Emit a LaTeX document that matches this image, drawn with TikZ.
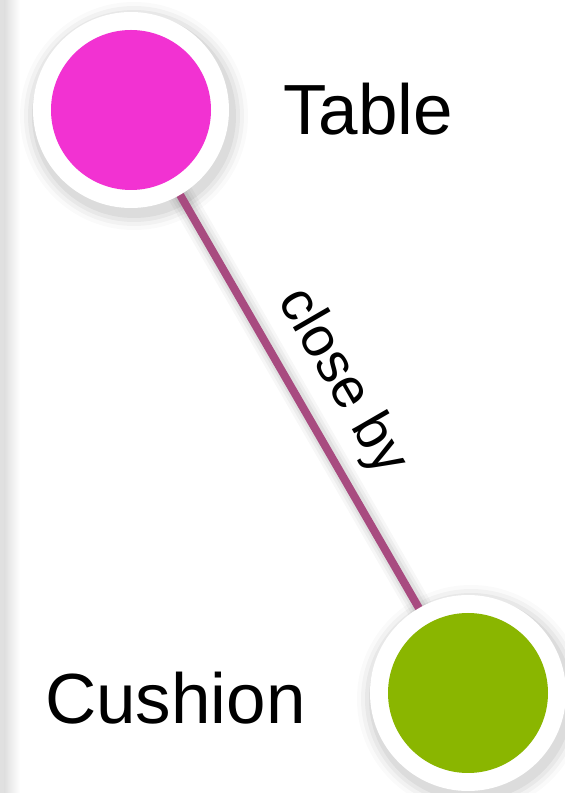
\documentclass[tikz,border=0pt]{standalone}
\usepackage{fontspec}
\setmainfont{Liberation Sans}
\usetikzlibrary{calc}
\definecolor{pinkc}{RGB}{242,50,210}
\definecolor{greenc}{RGB}{138,182,0}
\definecolor{edgec}{RGB}{168,75,128}
\tikzset{
  outer/.style={circle,fill=white,minimum size=196pt,inner sep=0pt},
  lbl/.style={font=\fontsize{71}{75}\selectfont,inner sep=0pt,text=black},
  elbl/.style={font=\fontsize{56}{60}\selectfont,inner sep=0pt,text=black},
  link/.style={draw=edgec,line width=8pt}
}
\begin{document}
\begin{tikzpicture}[x=1pt,y=1pt]
\useasboundingbox (0,0) rectangle (565,793);
\fill[white] (0,0) rectangle (565,793);
% left grey strip
\shade[left color=black!16,right color=white] (0,0) rectangle (20,793);
\fill[black!12] (0,0) rectangle (4,793);
% coordinates
\coordinate (t) at (131,683);
\coordinate (c) at (468,100);
% edge shadow
\foreach \w/\o in {26/0.03,20/0.04,14/0.05}{
  \draw[line width=\w pt,black,opacity=\o] ($(t)+(3,-4)$) -- ($(c)+(3,-4)$);
}
% node shadows
\foreach \r/\o in {114/0.02,110/0.03,106/0.04,102/0.05}{
  \fill[black,opacity=\o] ($(t)+(3,-6)$) circle (\r);
  \fill[black,opacity=\o] ($(c)+(3,-6)$) circle (\r);
}
\draw[link] (t) -- (c) node[midway,sloped,elbl,yshift=46pt,xshift=4pt] (el) {close by};
\node[outer] (T) at (t) {};
\node[outer] (C) at (c) {};
\fill[pinkc] (T.center) circle (80);
\fill[greenc] (C.center) circle (80);
\node[lbl,anchor=base west] (tl) at (283,658) {Table};
\node[lbl,anchor=base west] (cl) at (45,69) {Cushion};
\end{tikzpicture}
\end{document}
